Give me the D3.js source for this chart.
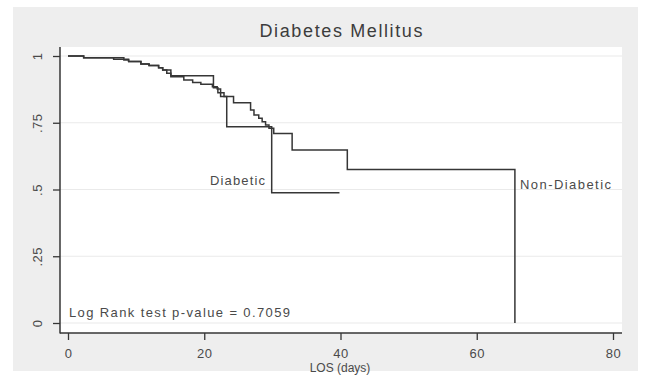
<!DOCTYPE html>
<html>
<head>
<meta charset="utf-8">
<script src="https://cdn.jsdelivr.net/npm/d3@7"></script>
<style>
  html, body { margin: 0; padding: 0; background: #ffffff; }
  svg { display: block; font-family: "Liberation Sans", Arial, sans-serif; }
</style>
</head>
<body>
<svg id="chart" width="645" height="376"></svg>
<script>
// Kaplan-Meier estimates: length of stay by diabetes status
const diabeticTime = [0, 2.3, 6.7, 8.9, 10.7, 11.9, 13.3, 13.9, 14.5, 15.1, 21.35, 22.0, 22.4, 23.3, 29.9, 39.85];
const diabeticSurv = [1, 0.993, 0.988, 0.979, 0.970, 0.964, 0.956, 0.948, 0.935, 0.926, 0.881, 0.862, 0.848, 0.735, 0.488, 0.488];

const nonDiabeticTime = [0, 2.3, 8.2, 8.9, 10.7, 11.9, 13.3, 13.9, 15.1, 17.0, 18.3, 19.5, 21.2, 21.9, 22.4, 22.9, 24.3, 26.8, 27.3, 28.0, 28.5, 29.0, 29.5, 30.2, 32.9, 41.0, 65.6];
const nonDiabeticSurv = [1, 0.993, 0.985, 0.979, 0.970, 0.964, 0.956, 0.948, 0.922, 0.910, 0.901, 0.894, 0.885, 0.876, 0.862, 0.848, 0.825, 0.798, 0.779, 0.767, 0.754, 0.742, 0.729, 0.710, 0.648, 0.575, 0.0];

const xTicks = [0, 20, 40, 60, 80];
const yTicks = [0, 0.25, 0.5, 0.75, 1];
const yTickLabels = ["0", ".25", ".5", ".75", "1"];

const title = "Diabetes Mellitus";
const xTitle = "LOS (days)";
const pValueNote = "Log Rank test p-value = 0.7059";
const groupLabels = ["Diabetic", "Non-Diabetic"];

const svg = d3.select("#chart");
const ink = "#363636";
const textInk = "#4a4a4a";

// outer graph region
svg.append("rect").attr("x", 0).attr("y", 0).attr("width", 645).attr("height", 376).attr("fill", "#ffffff");
svg.append("rect").attr("x", 13).attr("y", 7).attr("width", 625).attr("height", 364).attr("fill", "#eeeeee");

// plot region
const plot = { left: 60, right: 622, top: 47, bottom: 333 };
svg.append("rect")
  .attr("x", plot.left).attr("y", plot.top)
  .attr("width", plot.right - plot.left).attr("height", plot.bottom - plot.top)
  .attr("fill", "#ffffff");

const x = d3.scaleLinear().domain([0, 80]).range([68, 613]);
const y = d3.scaleLinear().domain([0, 1]).range([323, 56]);

// horizontal grid lines
svg.append("g").selectAll("line").data(yTicks).join("line")
  .attr("x1", plot.left).attr("x2", plot.right)
  .attr("y1", d => y(d)).attr("y2", d => y(d))
  .attr("stroke", "#eaeaea").attr("stroke-width", 1.2);

// y axis
const yAxis = svg.append("g").attr("transform", `translate(${plot.left},0)`)
  .call(d3.axisLeft(y).tickValues(yTicks).tickSize(7).tickSizeOuter(0)
    .tickFormat((d, i) => yTickLabels[i]));
yAxis.select(".domain").remove();
yAxis.append("line").attr("x1", 0).attr("x2", 0).attr("y1", plot.top).attr("y2", plot.bottom + 0.5)
  .attr("stroke", ink).attr("stroke-width", 1.5);
yAxis.selectAll(".tick line").attr("stroke", ink).attr("stroke-width", 1.3);
yAxis.selectAll(".tick text")
  .attr("x", null).attr("dy", null)
  .attr("transform", "translate(-18,0) rotate(-90)")
  .attr("text-anchor", "middle")
  .attr("fill", textInk)
  .style("font-size", "13px")
  .style("letter-spacing", "0.5px")
  .style("font-family", "'Liberation Sans', Arial, sans-serif");

// x axis
const xAxis = svg.append("g").attr("transform", `translate(0,${plot.bottom})`)
  .call(d3.axisBottom(x).tickValues(xTicks).tickSize(7).tickSizeOuter(0));
xAxis.select(".domain").remove();
xAxis.append("line").attr("x1", plot.left).attr("x2", plot.right).attr("y1", 0).attr("y2", 0)
  .attr("stroke", ink).attr("stroke-width", 1.5);
xAxis.selectAll(".tick line").attr("stroke", ink).attr("stroke-width", 1.3);
xAxis.selectAll(".tick text")
  .attr("y", 25).attr("dy", null)
  .attr("fill", textInk)
  .style("font-size", "13px")
  .style("letter-spacing", "0.5px")
  .style("font-family", "'Liberation Sans', Arial, sans-serif");

// survival step curves
const line = d3.line()
  .x(d => x(d[0]))
  .y(d => y(d[1]))
  .curve(d3.curveStepAfter);

const curves = [
  d3.zip(diabeticTime, diabeticSurv),
  d3.zip(nonDiabeticTime, nonDiabeticSurv)
];
svg.append("g").selectAll("path").data(curves).join("path")
  .attr("d", line)
  .attr("fill", "none")
  .attr("stroke", ink)
  .attr("stroke-width", 1.5);

// group labels
const labelFont = "13px";
svg.append("text").attr("x", 210).attr("y", 184.5).text(groupLabels[0])
  .attr("fill", textInk).style("font-size", labelFont)
  .attr("textLength", 55).attr("lengthAdjust", "spacing");
svg.append("text").attr("x", 520).attr("y", 188.5).text(groupLabels[1])
  .attr("fill", textInk).style("font-size", labelFont)
  .attr("textLength", 91).attr("lengthAdjust", "spacing");

// test note
svg.append("text").attr("x", 69).attr("y", 316.5).text(pValueNote)
  .attr("fill", textInk).style("font-size", labelFont)
  .attr("textLength", 221).attr("lengthAdjust", "spacing");

// titles
svg.append("text").attr("x", 341).attr("y", 37).attr("text-anchor", "middle").text(title)
  .attr("fill", "#3c3c3c").style("font-size", "18px")
  .attr("textLength", 163).attr("lengthAdjust", "spacing");
svg.append("text").attr("x", 340).attr("y", 372).attr("text-anchor", "middle").text(xTitle)
  .attr("fill", textInk).style("font-size", "12px");
</script>
</body>
</html>
